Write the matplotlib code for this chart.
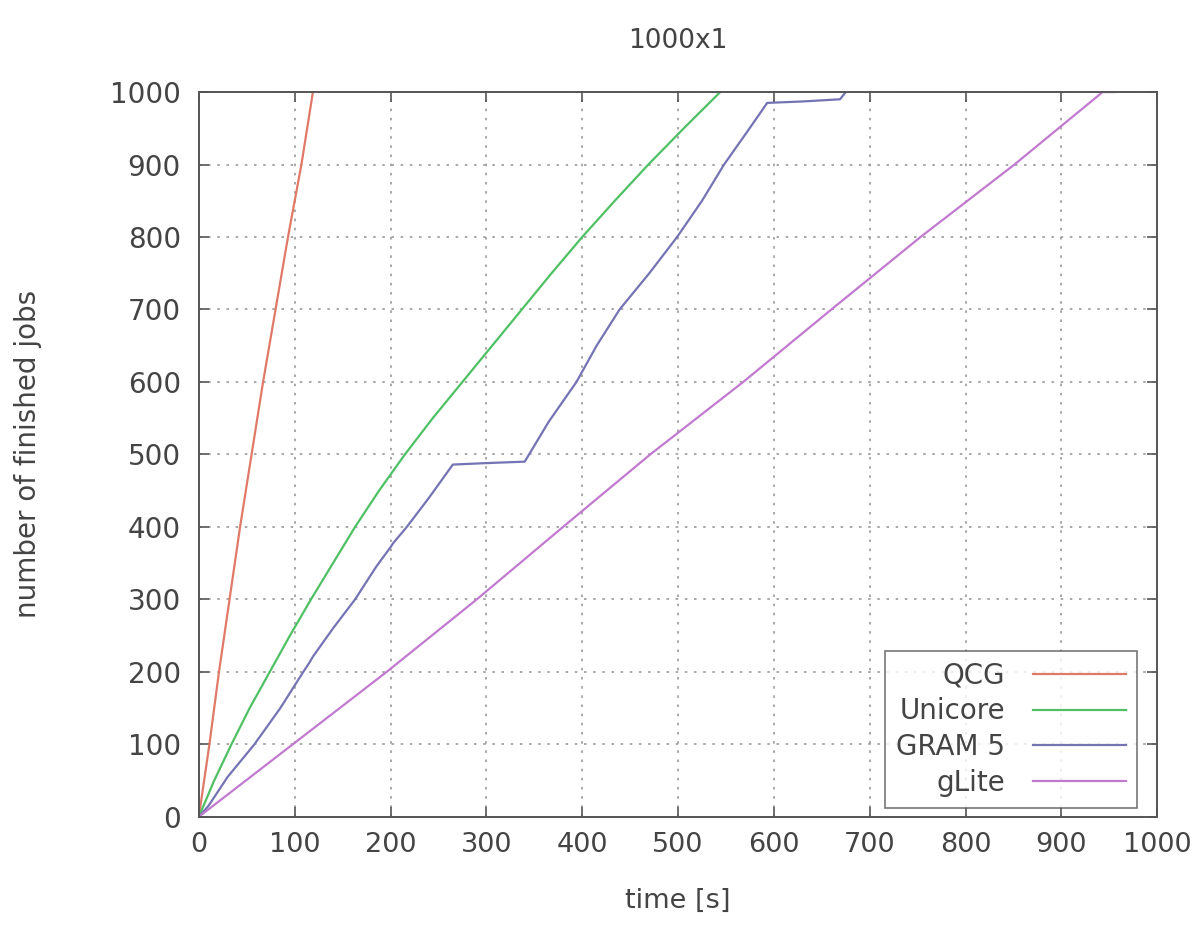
import matplotlib.pyplot as plt

# values (time [s], finished jobs)
qcg_t = [0, 11, 21, 32, 43, 55, 67, 80, 93, 107, 119]
qcg_n = [0, 100, 200, 300, 400, 500, 600, 700, 800, 900, 1000]

unicore_t = [0, 16, 34, 53, 74, 95, 117, 140, 163, 188, 215, 244, 275, 306, 337, 368, 400, 434, 469, 506, 544]
unicore_n = [0, 50, 100, 150, 200, 250, 300, 350, 400, 450, 500, 550, 600, 650, 700, 750, 800, 850, 900, 950, 1000]

gram_t = [0, 10, 30, 58, 85, 109, 115, 119, 140, 163, 185, 200, 203, 217, 240, 265, 300, 340,
          365, 394, 415, 439, 470, 499, 525, 548, 572, 593, 630, 669, 675]
gram_n = [0, 15, 55, 100, 150, 200, 212, 221, 260, 300, 345, 372, 378, 400, 440, 486, 488, 490,
          545, 600, 650, 700, 750, 800, 850, 900, 945, 985, 987, 990, 1000]

glite_t = [0, 98, 196, 290, 380, 471, 568, 660, 753, 851, 943, 956]
glite_n = [0, 100, 200, 300, 400, 500, 600, 700, 800, 900, 1000, 1000]

series = [
    ('QCG', qcg_t, qcg_n, '#e07a68'),
    ('Unicore', unicore_t, unicore_n, '#4fc063'),
    ('GRAM 5', gram_t, gram_n, '#7474b4'),
    ('gLite', glite_t, glite_n, '#c27ad0'),
]

fig = plt.figure(figsize=(11.98, 9.25), dpi=100)
ax = fig.add_axes([0.166, 0.117, 0.8, 0.7835])

for label, t, n, color in series:
    ax.plot(t, n, color=color, lw=1.6, label=label)

ax.set_xlim(0, 1000)
ax.set_ylim(0, 1000)
ax.set_xticks(range(0, 1001, 100))
ax.set_yticks(range(0, 1001, 100))
ax.grid(True, color='#999999', linestyle=(0, (1.5, 4)), lw=1.2)
ax.tick_params(direction='in', top=True, right=True, length=7, color='#555555', width=1.2)
ax.tick_params(axis='y', labelsize=20, labelcolor='#444444', pad=13)
ax.tick_params(axis='x', labelsize=19.5, labelcolor='#444444', pad=11)
for s in ax.spines.values():
    s.set_color('#555555')
    s.set_linewidth(1.4)

ax.set_title('1000x1', fontsize=19, color='#444444', pad=32)
ax.set_xlabel('time [s]', fontsize=19.5, color='#444444')
ax.set_ylabel('number of finished jobs', fontsize=20, color='#444444')
ax.xaxis.set_label_coords(0.5, -0.098)
ax.yaxis.set_label_coords(-0.164, 0.5)

leg = ax.legend(loc='lower right', bbox_to_anchor=(0.979, 0.012), borderaxespad=0,
                markerfirst=False, fontsize=20, frameon=True, fancybox=False,
                handlelength=3.35, labelspacing=0.28, borderpad=0.4, handletextpad=1.0)
leg.get_frame().set_edgecolor('#555555')
leg.get_frame().set_linewidth(1.2)
for txt in leg.get_texts():
    txt.set_color('#444444')
    txt.set_ha('right')

fig.savefig('out.png', dpi=100)
